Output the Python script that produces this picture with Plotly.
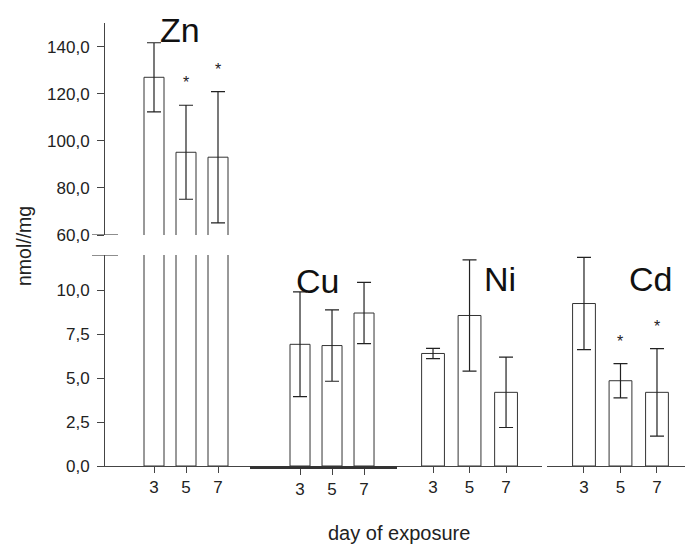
import plotly.graph_objects as go

# ---------------- data ----------------
days = [3, 5, 7]
metals = ["Zn", "Cu", "Ni", "Cd"]

zn_mean = [127.1, 95.2, 93.1]
zn_err = [14.7, 20.0, 27.9]
cu_mean = [6.92, 6.85, 8.70]
cu_err = [2.98, 2.03, 1.74]
ni_mean = [6.40, 8.56, 4.19]
ni_err = [0.29, 3.16, 2.00]
cd_mean = [9.24, 4.85, 4.19]
cd_err = [2.62, 0.97, 2.49]

zn_sig = ["", "*", "*"]
cu_sig = ["", "", ""]
ni_sig = ["", "", ""]
cd_sig = ["", "*", "*"]

y_low_ticks = [0, 2.5, 5, 7.5, 10]
y_low_labels = ["0,0", "2,5", "5,0", "7,5", "10,0"]
y_up_ticks = [60, 80, 100, 120, 140]
y_up_labels = ["60,0", "80,0", "100,0", "120,0", "140,0"]

x_title = "day of exposure"
y_title = "nmol//mg"

# ---------------- layout helpers ----------------
W, H = 685, 545
ML, MR, MT, MB = 105, 0, 23, 79
PW, PH = W - ML - MR, H - MT - MB


def px_x(p):
    return (p - ML) / PW


def px_y(p):
    return (H - MB - p) / PH


FONT = "Arial, Liberation Sans, sans-serif"
TXT = "#222222"
LINE = "#444444"

fig = go.Figure()

bar_w = 1.25
err_style = dict(type="data", color="#222222", thickness=1.2, width=7)

groups = [
    ("x", "y", zn_mean, zn_err, zn_sig),
    ("x2", "y", cu_mean, cu_err, cu_sig),
    ("x3", "y", ni_mean, ni_err, ni_sig),
    ("x4", "y", cd_mean, cd_err, cd_sig),
]

for xa, ya, mean, err, sig in groups:
    fig.add_trace(go.Bar(
        x=days, y=mean, width=bar_w, xaxis=xa, yaxis=ya,
        marker=dict(color="white", line=dict(color="#333333", width=1)),
        error_y=dict(array=err, **err_style),
        showlegend=False, hoverinfo="skip",
    ))

# Zn upper (broken axis) part
fig.add_trace(go.Bar(
    x=days, y=zn_mean, width=bar_w, xaxis="x", yaxis="y2",
    marker=dict(color="white", line=dict(color="#333333", width=1)),
    error_y=dict(array=zn_err, **err_style),
    showlegend=False, hoverinfo="skip",
))

annotations = []
# significance stars
star_sets = [("x", "y2", zn_mean, zn_err, zn_sig), ("x4", "y", cd_mean, cd_err, cd_sig)]
for xa, ya, mean, err, sig in star_sets:
    for d, m, e, s in zip(days, mean, err, sig):
        if s:
            annotations.append(dict(
                x=d, y=m + e, xref=xa, yref=ya, text=s, showarrow=False,
                yanchor="bottom", yshift=12, font=dict(size=16, color=TXT, family=FONT)))

# metal labels
label_pos = {"Zn": (180, 30.5), "Cu": (317, 280.5), "Ni": (500, 278.5), "Cd": (650, 279.5)}
for m in metals:
    px, py = label_pos[m]
    annotations.append(dict(
        x=px_x(px), y=px_y(py), xref="paper", yref="paper", text=m, showarrow=False,
        xanchor="center", yanchor="middle", font=dict(size=34, color="#111111", family=FONT)))

annotations.append(dict(
    x=px_x(399), y=px_y(533), xref="paper", yref="paper", text=x_title, showarrow=False,
    xanchor="center", yanchor="middle", font=dict(size=20, color=TXT, family=FONT)))
annotations.append(dict(
    x=px_x(24), y=px_y(246), xref="paper", yref="paper", text=y_title, showarrow=False,
    textangle=-90, xanchor="center", yanchor="middle",
    font=dict(size=19.5, color=TXT, family=FONT)))

shapes = [
    dict(type="line", xref="paper", yref="y2", x0=px_x(92), x1=px_x(118), y0=60, y1=60,
         line=dict(color=LINE, width=1.2)),
    dict(type="line", xref="paper", yref="y", x0=px_x(92), x1=px_x(118), y0=12, y1=12,
         line=dict(color=LINE, width=1.2)),
]

xa_common = dict(
    showgrid=False, zeroline=False, showline=True, linecolor=LINE, linewidth=1,
    ticks="outside", ticklen=6, tickcolor=LINE, tickwidth=1,
    tickvals=days, ticktext=[str(d) for d in days],
    tickfont=dict(size=17, color=TXT, family=FONT), anchor="y", fixedrange=True,
)

fig.update_layout(
    width=W, height=H, autosize=False,
    margin=dict(l=ML, r=MR, t=MT, b=MB, pad=0),
    paper_bgcolor="white", plot_bgcolor="white",
    font=dict(family=FONT, color=TXT),
    barmode="overlay",
    xaxis=dict(domain=[px_x(105), px_x(250)], range=[-0.0625, 9.0], **xa_common),
    xaxis2=dict(domain=[px_x(250), px_x(397)], range=[-0.125, 9.06],
                **{**xa_common, "linewidth": 2.5, "linecolor": "#333333"}),
    xaxis3=dict(domain=[px_x(397), px_x(542)], range=[1.027, 8.97], **xa_common),
    xaxis4=dict(domain=[px_x(547), px_x(685)], range=[0.973, 8.535], **xa_common),
    yaxis=dict(domain=[0, px_y(255)], range=[0, 12], anchor="x",
               showgrid=False, zeroline=False, showline=True, linecolor=LINE, linewidth=1,
               ticks="outside", ticklen=7, tickcolor=LINE,
               tickvals=y_low_ticks, ticktext=y_low_labels, ticklabelstandoff=4,
               tickfont=dict(size=17, color=TXT, family=FONT), fixedrange=True),
    yaxis2=dict(domain=[px_y(235), 1], range=[60, 150.2], anchor="x",
                showgrid=False, zeroline=False, showline=True, linecolor=LINE, linewidth=1,
                ticks="outside", ticklen=7, tickcolor=LINE,
                tickvals=y_up_ticks, ticktext=y_up_labels, ticklabelstandoff=4,
                tickfont=dict(size=17, color=TXT, family=FONT), fixedrange=True),
    annotations=annotations,
    shapes=shapes,
)

fig.write_html("out.html", config={"displayModeBar": False})
